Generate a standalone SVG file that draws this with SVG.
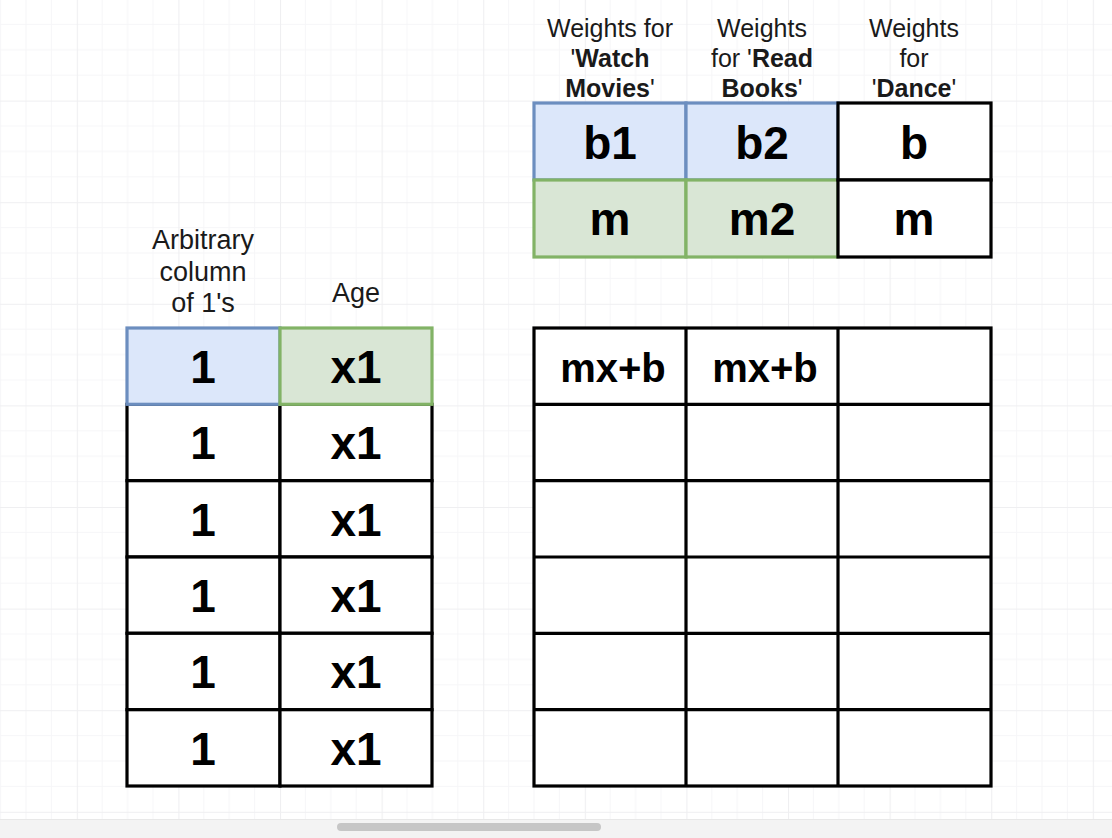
<svg xmlns="http://www.w3.org/2000/svg" width="1112" height="838" viewBox="0 0 1112 838">
  <defs>
    <pattern id="grid" x="-24.8" y="-1" width="101.6" height="101.6" patternUnits="userSpaceOnUse">
      <path d="M25.4 0V101.6M50.8 0V101.6M76.2 0V101.6M0 25.4H101.6M0 50.8H101.6M0 76.2H101.6" stroke="#f6f6f8" stroke-width="1" fill="none"/>
      <path d="M0.5 0V101.6M0 0.5H101.6" stroke="#efeff1" stroke-width="1.2" fill="none"/>
    </pattern>
    <style>
      .cell { stroke: #000; stroke-width: 3.2; fill: #fff; }
      .blue { stroke: #6c8ebf; stroke-width: 3.2; fill: #dce7fa; }
      .green { stroke: #82b366; stroke-width: 3.2; fill: #d9e6d5; }
      .val { font-family: "Liberation Sans", Arial, sans-serif; font-weight: bold; font-size: 46px; text-anchor: middle; fill: #000; }
      .val2 { font-family: "Liberation Sans", Arial, sans-serif; font-weight: bold; font-size: 40px; text-anchor: middle; fill: #000; }
      .lbl { font-family: "Liberation Sans", Arial, sans-serif; font-size: 25px; text-anchor: middle; fill: #1a1a1a; }
      .lbl2 { font-family: "Liberation Sans", Arial, sans-serif; font-size: 27px; text-anchor: middle; fill: #1a1a1a; }
      .b { font-weight: bold; }
    </style>
  </defs>
  <rect x="0" y="0" width="1112" height="838" fill="#ffffff"/>
  <rect x="0" y="0" width="1112" height="838" fill="url(#grid)"/>

  <!-- Weights header labels -->
  <g id="label-watch">
    <text class="lbl" x="610" y="37">Weights for</text>
    <text class="lbl" x="610" y="67">'<tspan class="b">Watch</tspan></text>
    <text class="lbl" x="610" y="97"><tspan class="b">Movies</tspan>'</text>
  </g>
  <g id="label-read">
    <text class="lbl" x="762" y="37">Weights</text>
    <text class="lbl" x="762" y="67">for '<tspan class="b">Read</tspan></text>
    <text class="lbl" x="762" y="97"><tspan class="b">Books</tspan>'</text>
  </g>
  <g id="label-dance">
    <text class="lbl" x="914" y="37">Weights</text>
    <text class="lbl" x="914" y="67">for</text>
    <text class="lbl" x="914" y="97">'<tspan class="b">Dance</tspan>'</text>
  </g>

  <!-- Weights table -->
  <g id="weights-b">
    <rect class="blue" x="534" y="103" width="152" height="77"/>
    <rect class="blue" x="686" y="103" width="152" height="77"/>
    <text class="val" x="610" y="159">b1</text>
    <text class="val" x="762" y="159">b2</text>
  </g>
  <g id="weights-m">
    <rect class="green" x="534" y="180" width="152" height="77"/>
    <rect class="green" x="686" y="180" width="152" height="77"/>
    <text class="val" x="610" y="235">m</text>
    <text class="val" x="762" y="235">m2</text>
  </g>
  <g id="weights-dance">
    <rect class="cell" x="838" y="103" width="153" height="77"/>
    <rect class="cell" x="838" y="180" width="153" height="77"/>
    <text class="val" x="914" y="159">b</text>
    <text class="val" x="914" y="235">m</text>
  </g>

  <!-- Left labels -->
  <g id="label-ones">
    <text class="lbl2" x="203" y="249">Arbitrary</text>
    <text class="lbl2" x="203" y="281">column</text>
    <text class="lbl2" x="203" y="312">of 1's</text>
  </g>
  <g id="label-age">
    <text class="lbl2" x="356" y="302">Age</text>
  </g>

  <!-- Input table -->
  <g id="input-table">
    <rect class="cell" x="127" y="404.3" width="153" height="76.4"/>
    <rect class="cell" x="280" y="404.3" width="152" height="76.4"/>
    <rect class="cell" x="127" y="480.7" width="153" height="76.3"/>
    <rect class="cell" x="280" y="480.7" width="152" height="76.3"/>
    <rect class="cell" x="127" y="557" width="153" height="76.3"/>
    <rect class="cell" x="280" y="557" width="152" height="76.3"/>
    <rect class="cell" x="127" y="633.3" width="153" height="76.4"/>
    <rect class="cell" x="280" y="633.3" width="152" height="76.4"/>
    <rect class="cell" x="127" y="709.7" width="153" height="76.3"/>
    <rect class="cell" x="280" y="709.7" width="152" height="76.3"/>
    <rect class="blue" x="127" y="328" width="153" height="76.3"/>
    <rect class="green" x="280" y="328" width="152" height="76.3"/>
    <text class="val" x="203" y="383">1</text>
    <text class="val" x="356" y="383">x1</text>
    <text class="val" x="203" y="459">1</text>
    <text class="val" x="356" y="459">x1</text>
    <text class="val" x="203" y="536">1</text>
    <text class="val" x="356" y="536">x1</text>
    <text class="val" x="203" y="612">1</text>
    <text class="val" x="356" y="612">x1</text>
    <text class="val" x="203" y="688">1</text>
    <text class="val" x="356" y="688">x1</text>
    <text class="val" x="203" y="765">1</text>
    <text class="val" x="356" y="765">x1</text>
  </g>

  <!-- Output table -->
  <g id="output-table">
    <rect class="cell" x="534" y="328" width="457" height="458"/>
    <path d="M686 328V786M838 328V786M534 404.3H991M534 480.7H991M534 557H991M534 633.3H991M534 709.7H991" stroke="#000" stroke-width="3.2" fill="none"/>
    <text class="val2" x="613" y="382">mx+b</text>
    <text class="val2" x="765" y="382">mx+b</text>
  </g>

  <g id="connectors"></g>

  <!-- scrollbar -->
  <rect x="0" y="819" width="1112" height="19" fill="#f3f3f3"/>
  <line x1="0" y1="819.5" x2="1112" y2="819.5" stroke="#e8e8e8"/>
  <rect x="337" y="823" width="264" height="8" rx="4" fill="#c6c6c6"/>
</svg>
